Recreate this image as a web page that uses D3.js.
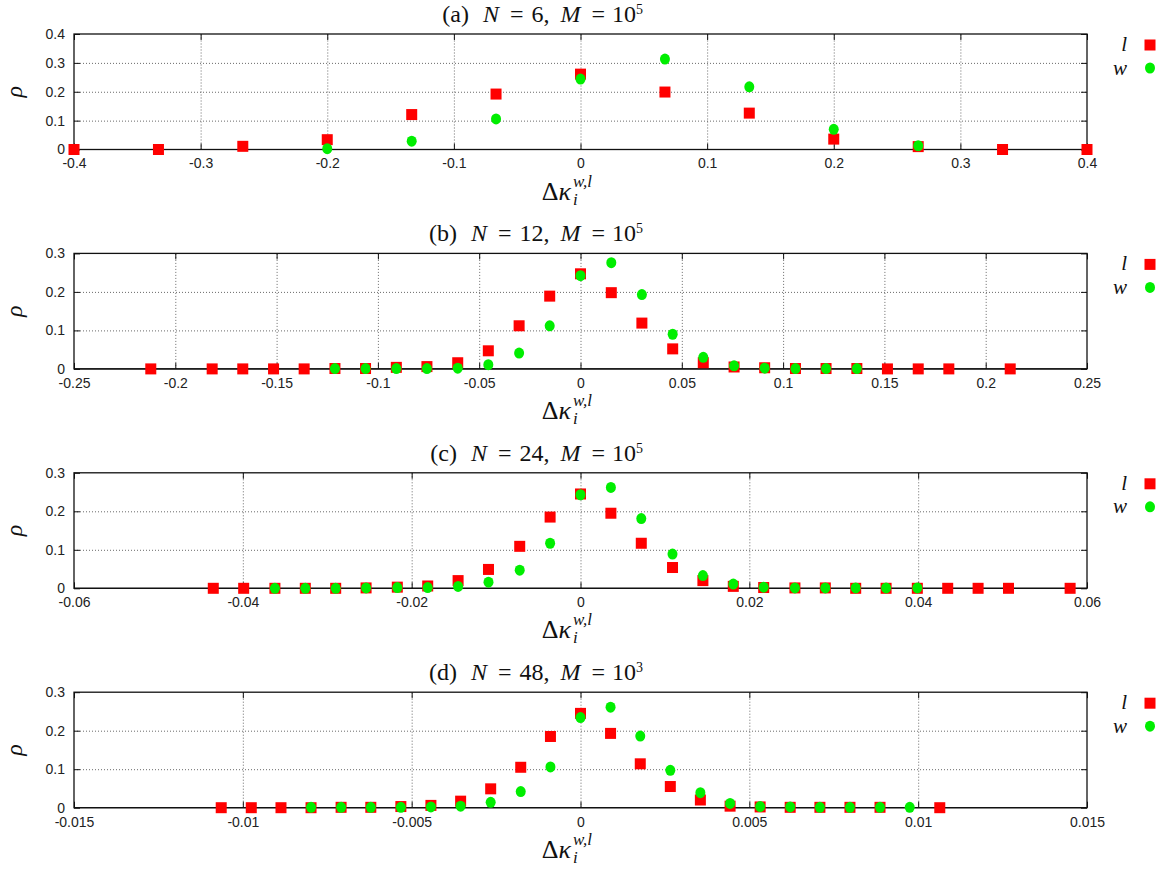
<!DOCTYPE html>
<html>
<head>
<meta charset="utf-8">
<script src="https://cdn.jsdelivr.net/npm/d3@7"></script>
<style>
  body { margin: 0; background: #fff; }
  .tick text { font-family: 'Liberation Sans', Arial, sans-serif; font-size: 14px; fill: #222; }
  .grid line { stroke: #444; stroke-width: 0.8; stroke-dasharray: 1,2; }
  .serif { font-family: 'Liberation Serif', 'Times New Roman', serif; fill: #111; }
</style>
</head>
<body>
<div class="chart"></div>
<script>
// panel (a) N = 6
const xA_l = [-0.4, -0.3333, -0.2667, -0.2, -0.1333, -0.0667, 0, 0.0667, 0.1333, 0.2, 0.2667, 0.3333, 0.4];
const rhoA_l = [0, 0, 0.011, 0.034, 0.121, 0.192, 0.261, 0.199, 0.126, 0.036, 0.010, 0, 0];
const xA_w = [-0.2, -0.1333, -0.0667, 0, 0.0667, 0.1333, 0.2, 0.2667];
const rhoA_w = [0.003, 0.029, 0.106, 0.244, 0.313, 0.217, 0.070, 0.013];

// panel (b) N = 12
const xB_l = [-0.2121, -0.1818, -0.1667, -0.1515, -0.1364, -0.1212, -0.1061, -0.0909, -0.0758, -0.0606, -0.0455, -0.0303, -0.0152, 0,
              0.0152, 0.0303, 0.0455, 0.0606, 0.0758, 0.0909, 0.1061, 0.1212, 0.1364, 0.1515, 0.1667, 0.1818, 0.2121];
const rhoB_l = [0, 0, 0, 0, 0, 0.001, 0.001, 0.004, 0.006, 0.016, 0.047, 0.112, 0.189, 0.247,
                0.198, 0.119, 0.052, 0.016, 0.005, 0.003, 0.001, 0.001, 0.001, 0, 0, 0, 0];
const xB_w = [-0.1212, -0.1061, -0.0909, -0.0758, -0.0606, -0.0455, -0.0303, -0.0152, 0,
              0.0152, 0.0303, 0.0455, 0.0606, 0.0758, 0.0909, 0.1061, 0.1212, 0.1364];
const rhoB_w = [0.001, 0.001, 0.001, 0.001, 0.002, 0.011, 0.041, 0.112, 0.242,
                0.276, 0.193, 0.090, 0.030, 0.008, 0.002, 0.001, 0.001, 0.001];

// panel (c) N = 24
const xC_l = [-0.0435, -0.0399, -0.0362, -0.0326, -0.0290, -0.0254, -0.0217, -0.0181, -0.0145, -0.0109, -0.0072, -0.0036, 0,
              0.0036, 0.0072, 0.0109, 0.0145, 0.0181, 0.0217, 0.0254, 0.0290, 0.0326, 0.0362, 0.0399, 0.0435, 0.0471, 0.0507, 0.0580];
const rhoC_l = [0, 0, 0, 0, 0, 0.001, 0.003, 0.006, 0.020, 0.049, 0.109, 0.185, 0.245,
                0.195, 0.117, 0.054, 0.020, 0.005, 0.002, 0.001, 0.001, 0, 0, 0, 0, 0, 0, 0];
const xC_w = [-0.0362, -0.0326, -0.0290, -0.0254, -0.0217, -0.0181, -0.0145, -0.0109, -0.0072, -0.0036, 0,
              0.0036, 0.0072, 0.0109, 0.0145, 0.0181, 0.0217, 0.0254, 0.0290, 0.0326, 0.0362, 0.0399];
const rhoC_w = [0, 0, 0, 0.001, 0.002, 0.002, 0.005, 0.016, 0.047, 0.117, 0.243,
                0.262, 0.181, 0.089, 0.033, 0.011, 0.003, 0.001, 0.001, 0.001, 0.001, 0.001];

// panel (d) N = 48
const xD_l = [-0.01064, -0.00975, -0.00887, -0.00798, -0.00709, -0.00621, -0.00532, -0.00443, -0.00355, -0.00266, -0.00177, -0.00089, 0,
              0.00089, 0.00177, 0.00266, 0.00355, 0.00443, 0.00532, 0.00621, 0.00709, 0.00798, 0.00887, 0.01064];
const rhoD_l = [0, 0, 0, 0, 0.001, 0.001, 0.003, 0.006, 0.017, 0.049, 0.105, 0.185, 0.245,
                0.193, 0.114, 0.055, 0.020, 0.004, 0.002, 0.001, 0.001, 0.001, 0.001, 0];
const xD_w = [-0.00798, -0.00709, -0.00621, -0.00532, -0.00443, -0.00355, -0.00266, -0.00177, -0.00089, 0,
              0.00089, 0.00177, 0.00266, 0.00355, 0.00443, 0.00532, 0.00621, 0.00709, 0.00798, 0.00887, 0.00975];
const rhoD_w = [0.001, 0.001, 0.001, 0.001, 0.002, 0.004, 0.014, 0.042, 0.106, 0.234,
                0.261, 0.186, 0.097, 0.039, 0.011, 0.003, 0.002, 0.001, 0.001, 0.001, 0.001];

// tick values
const xTicksA = [-0.4, -0.3, -0.2, -0.1, 0, 0.1, 0.2, 0.3, 0.4];
const xTicksB = [-0.25, -0.2, -0.15, -0.1, -0.05, 0, 0.05, 0.1, 0.15, 0.2, 0.25];
const xTicksC = [-0.06, -0.04, -0.02, 0, 0.02, 0.04, 0.06];
const xTicksD = [-0.015, -0.01, -0.005, 0, 0.005, 0.01, 0.015];
const yTicksA = [0, 0.1, 0.2, 0.3, 0.4];
const yTicksBCD = [0, 0.1, 0.2, 0.3];

const letters = ['a', 'b', 'c', 'd'];
const sizesN = ['6', '12', '24', '48'];
const expM = ['5', '5', '5', '3'];

const panels = [
  { xTicks: xTicksA, yTicks: yTicksA, xl: xA_l, rl: rhoA_l, xw: xA_w, rw: rhoA_w },
  { xTicks: xTicksB, yTicks: yTicksBCD, xl: xB_l, rl: rhoB_l, xw: xB_w, rw: rhoB_w },
  { xTicks: xTicksC, yTicks: yTicksBCD, xl: xC_l, rl: rhoC_l, xw: xC_w, rw: rhoC_w },
  { xTicks: xTicksD, yTicks: yTicksBCD, xl: xD_l, rl: rhoD_l, xw: xD_w, rw: rhoD_w }
];

// gnuplot style labels: plain hyphen, no trailing zeros
const fmt = d => String(+d.toFixed(4));

const svg_width = 1167, svg_height = 869;
const left = 74, right = 1087;
const plot_h = 115.5, step = 219.4, firstTop = 34;

const svg = d3.select('.chart').append('svg')
  .attr('width', svg_width).attr('height', svg_height);

panels.forEach((p, i) => {
  const top = firstTop + i * step;
  const bottom = top + plot_h;
  const xScale = d3.scaleLinear().domain(d3.extent(p.xTicks)).range([left, right]);
  const yScale = d3.scaleLinear().domain(d3.extent(p.yTicks)).range([bottom, top]);
  const g = svg.append('g');

  // grid
  g.append('g').attr('class', 'grid').attr('transform', `translate(0,${bottom})`)
    .call(d3.axisBottom(xScale).tickValues(p.xTicks.slice(1, -1)).tickSize(-plot_h).tickFormat(''))
    .call(s => s.select('.domain').remove());
  g.append('g').attr('class', 'grid').attr('transform', `translate(${left},0)`)
    .call(d3.axisLeft(yScale).tickValues(p.yTicks.slice(1, -1)).tickSize(-(right - left)).tickFormat(''))
    .call(s => s.select('.domain').remove());

  // axes, inward ticks on all four sides
  g.append('g').attr('transform', `translate(0,${bottom})`)
    .call(d3.axisBottom(xScale).tickValues(p.xTicks).tickFormat(fmt).tickSizeInner(-6).tickSizeOuter(0).tickPadding(9));
  g.append('g').attr('transform', `translate(0,${top})`)
    .call(d3.axisTop(xScale).tickValues(p.xTicks).tickFormat('').tickSizeInner(-6).tickSizeOuter(0));
  g.append('g').attr('transform', `translate(${left},0)`)
    .call(d3.axisLeft(yScale).tickValues(p.yTicks).tickFormat(fmt).tickSizeInner(-6).tickSizeOuter(0).tickPadding(9));
  g.append('g').attr('transform', `translate(${right},0)`)
    .call(d3.axisRight(yScale).tickValues(p.yTicks).tickFormat('').tickSizeInner(-6).tickSizeOuter(0));
  g.selectAll('.domain').remove();
  g.selectAll('.tick line').filter(function() { return !this.closest('.grid'); })
    .attr('stroke', '#111').attr('stroke-width', 1);

  // border + zero axis
  g.append('rect').attr('x', left).attr('y', top).attr('width', right - left).attr('height', plot_h)
    .attr('fill', 'none').attr('stroke', '#111').attr('stroke-width', 1.3);
  g.append('line').attr('x1', left).attr('x2', right).attr('y1', yScale(0)).attr('y2', yScale(0))
    .attr('stroke', '#111').attr('stroke-width', 1.2);

  // points: l squares first, w circles on top
  const lData = p.xl.map((x, j) => ({ x, r: p.rl[j] }));
  const wData = p.xw.map((x, j) => ({ x, r: p.rw[j] }));
  g.selectAll('.sq').data(lData).enter().append('rect').attr('class', 'sq')
    .attr('x', d => xScale(d.x) - 5.5).attr('y', d => yScale(d.r) - 5.5)
    .attr('width', 11).attr('height', 11).style('fill', '#ff0000');
  g.selectAll('.dot').data(wData).enter().append('ellipse').attr('class', 'dot')
    .attr('cx', d => xScale(d.x)).attr('cy', d => yScale(d.r))
    .attr('rx', 5).attr('ry', 5.5).style('fill', '#00ee00');

  // title, right end kept where the reference has it
  const title = g.append('text').attr('class', 'serif').attr('x', 643).attr('y', top - 12)
    .attr('text-anchor', 'end').style('font-size', '24px');
  title.append('tspan').text(`(${letters[i]})`);
  title.append('tspan').attr('dx', 14).style('font-style', 'italic').text('N');
  title.append('tspan').attr('dx', 11).text('=');
  title.append('tspan').attr('dx', 8).text(sizesN[i] + ',');
  title.append('tspan').attr('dx', 11).style('font-style', 'italic').text('M');
  title.append('tspan').attr('dx', 11).text('=');
  title.append('tspan').attr('dx', 7).text('10');
  title.append('tspan').attr('dy', -8).style('font-size', '14px').text(expM[i]);

  // x label  Δκ_i^{w,l}
  const cx = 571;
  g.append('text').attr('class', 'serif').attr('x', cx).attr('y', bottom + 50)
    .attr('text-anchor', 'end').style('font-size', '26px')
    .call(t => { t.append('tspan').text('Δ'); t.append('tspan').style('font-style', 'italic').text('κ'); });
  g.append('text').attr('class', 'serif').attr('x', cx + 2).attr('y', bottom + 37)
    .style('font-size', '17px').style('font-style', 'italic').text('w,l');
  g.append('text').attr('class', 'serif').attr('x', cx + 2).attr('y', bottom + 55)
    .style('font-size', '17px').style('font-style', 'italic').text('i');

  // y label
  g.append('text').attr('class', 'serif')
    .attr('transform', `translate(22,${top + plot_h / 2}) rotate(-90)`)
    .attr('text-anchor', 'middle').style('font-size', '24px').style('font-style', 'italic').text('ρ');

  // legend
  const lg = g.append('g').attr('transform', `translate(0,${top})`);
  lg.append('text').attr('class', 'serif').attr('x', 1127).attr('y', 17).attr('text-anchor', 'end')
    .style('font-size', '21px').style('font-style', 'italic').text('l');
  lg.append('rect').attr('x', 1150 - 5.5).attr('y', 11 - 5.5).attr('width', 11).attr('height', 11).style('fill', '#ff0000');
  lg.append('text').attr('class', 'serif').attr('x', 1127).attr('y', 40.5).attr('text-anchor', 'end')
    .style('font-size', '21px').style('font-style', 'italic').text('w');
  lg.append('ellipse').attr('cx', 1150).attr('cy', 34).attr('rx', 5).attr('ry', 5.5).style('fill', '#00ee00');
});
</script>
</body>
</html>
